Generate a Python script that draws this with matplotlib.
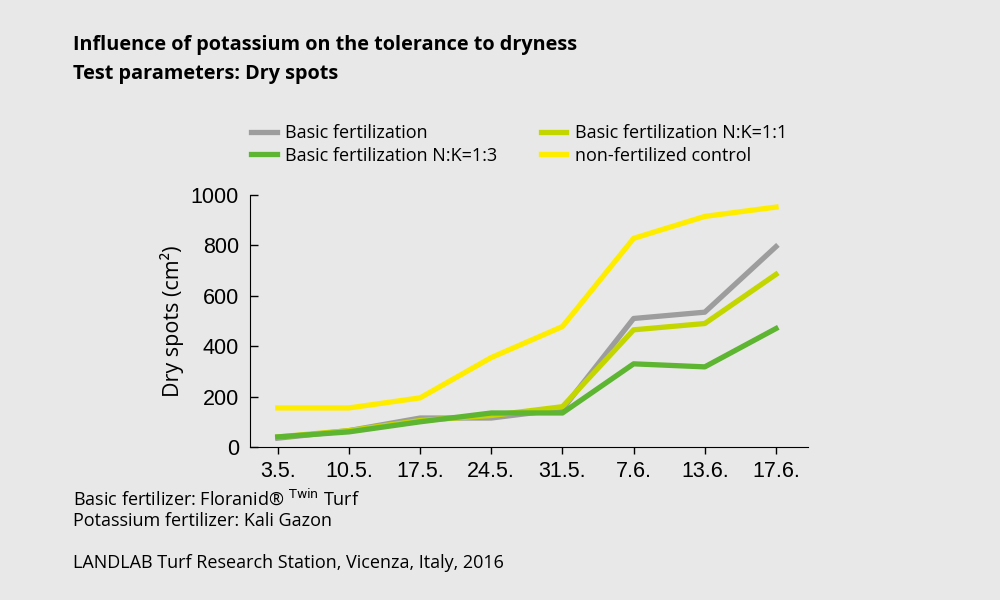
import matplotlib
matplotlib.use('Agg')
import matplotlib.pyplot as plt

dates = ['3.5.', '10.5.', '17.5.', '24.5.', '31.5.', '7.6.', '13.6.', '17.6.']
basic = [35, 65, 115, 115, 150, 510, 535, 795]
nk_13 = [40, 60, 100, 135, 135, 330, 318, 470]
nk_11 = [40, 65, 105, 125, 160, 465, 490, 685]
control = [155, 155, 195, 355, 478, 828, 915, 952]

BG = '#e8e8e8'
plt.rcParams['font.family'] = ['Open Sans', 'DejaVu Sans']

fig = plt.figure(figsize=(10, 6), dpi=100, facecolor=BG)
ax = fig.add_axes([0.250, 0.255, 0.558, 0.420], facecolor=BG)

x = range(len(dates))
ax.plot(x, control, color='#ffed00', lw=3.8, label='non-fertilized control', zorder=2)
ax.plot(x, basic, color='#9d9d9d', lw=3.8, label='Basic fertilization', zorder=3)
ax.plot(x, nk_11, color='#c4d600', lw=3.8, label='Basic fertilization N:K=1:1', zorder=4)
ax.plot(x, nk_13, color='#5db531', lw=3.8, label='Basic fertilization N:K=1:3', zorder=5)

ax.set_xlim(-0.39, 7.45)
ax.set_ylim(0, 1000)
ax.set_xticks(list(x))
ax.set_xticklabels(dates)
ax.set_yticks([0, 200, 400, 600, 800, 1000])
ax.tick_params(axis='y', direction='in', length=6, width=1, pad=8)
ax.tick_params(axis='x', direction='out', length=5, width=1, pad=5)
for lab in ax.get_xticklabels() + ax.get_yticklabels():
    lab.set_family(['Liberation Sans', 'DejaVu Sans'])
    lab.set_fontsize(15.5)
ax.spines['top'].set_visible(False)
ax.spines['right'].set_visible(False)
ax.set_ylabel('Dry spots (cm²)', fontsize=15.5, labelpad=5)

h, l = ax.get_legend_handles_labels()
order = [1, 3, 2, 0]
fig.legend([h[i] for i in order], [l[i] for i in order], ncol=2, loc='upper left',
           bbox_to_anchor=(0.235, 0.82), frameon=False, fontsize=13,
           handlelength=1.4, handletextpad=0.45, columnspacing=2.45, labelspacing=0.25)

fig.text(0.073, 0.925, 'Influence of potassium on the tolerance to dryness',
         fontsize=14.3, fontweight='bold', va='center')
fig.text(0.073, 0.877, 'Test parameters: Dry spots',
         fontsize=14.3, fontweight='bold', va='center')
fig.text(0.073, 0.170, 'Basic fertilizer: Floranid® $^{\\mathrm{Twin}}$ Turf', fontsize=13, va='center')
fig.text(0.073, 0.132, 'Potassium fertilizer: Kali Gazon', fontsize=13, va='center')
fig.text(0.073, 0.062, 'LANDLAB Turf Research Station, Vicenza, Italy, 2016', fontsize=13, va='center')

fig.savefig('out.png', dpi=100, facecolor=BG)
